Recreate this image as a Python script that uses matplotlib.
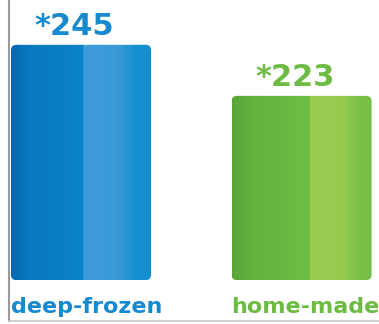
import matplotlib
matplotlib.use("Agg")
import matplotlib.pyplot as plt
import numpy as np
from matplotlib.colors import LinearSegmentedColormap
from matplotlib.patches import FancyBboxPatch

categories = ["deep-frozen", "home-made"]
values = [245, 223]
value_labels = ["*245", "*223"]

base = 143.6
text_colors = ["#1789cf", "#6dbb43"]
stops = [
    [(0.0, "#0068b0"), (0.12, "#0a78c0"), (0.51, "#0a82c9"), (0.515, "#409cd8"),
     (0.75, "#3a9ad7"), (0.9, "#1590d0"), (1.0, "#138dce")],
    [(0.0, "#5aa539"), (0.15, "#63b23f"), (0.55, "#6cbd45"), (0.555, "#9ccb52"),
     (0.78, "#98ca50"), (0.9, "#7cc148"), (1.0, "#74bd45")],
]

fig = plt.figure(figsize=(3.79, 3.24), dpi=100)
ax = fig.add_axes([9 / 379, 3 / 324, 370 / 379, 321 / 324])
ax.set_xlim(-0.3265, 1.351)
ax.set_ylim(126.0, 264.3)

x = np.arange(len(categories))
heights = [v - base for v in values]
bars = ax.bar(x, heights, width=0.635, bottom=base, color="none", edgecolor="none")

aspect = (1 / 2.32) / (1 / 220.5)
grad = np.linspace(0, 1, 400).reshape(1, -1)
for i, b in enumerate(bars):
    x0, y0, w, h = b.get_x(), b.get_y(), b.get_width(), b.get_height()
    shape = FancyBboxPatch((x0, y0), w, h,
                           boxstyle="round,pad=0,rounding_size=0.025",
                           mutation_aspect=aspect, facecolor="none",
                           edgecolor="none", transform=ax.transData)
    ax.add_patch(shape)
    cmap = LinearSegmentedColormap.from_list(f"g{i}", stops[i])
    im = ax.imshow(grad, cmap=cmap, aspect="auto", extent=(x0, x0 + w, y0, y0 + h),
                   interpolation="bilinear", zorder=2)
    im.set_clip_path(shape)
    ax.text(x[i] - 0.03, values[i] + 4.3, value_labels[i], ha="center", va="baseline",
            fontsize=22, fontweight="bold", color=text_colors[i],
            family="DejaVu Sans")
    ax.text(x0, base - 14.2, categories[i], ha="left", va="baseline",
            fontsize=16, fontweight="bold", color=text_colors[i],
            family="DejaVu Sans")

for s in ["top", "right"]:
    ax.spines[s].set_visible(False)
ax.spines["left"].set_color("#9a9a9a")
ax.spines["left"].set_linewidth(1.5)
ax.spines["bottom"].set_color("#c8c8c8")
ax.spines["bottom"].set_linewidth(1.2)
ax.set_xticks([])
ax.set_yticks([])

fig.savefig("out.png", dpi=100)
